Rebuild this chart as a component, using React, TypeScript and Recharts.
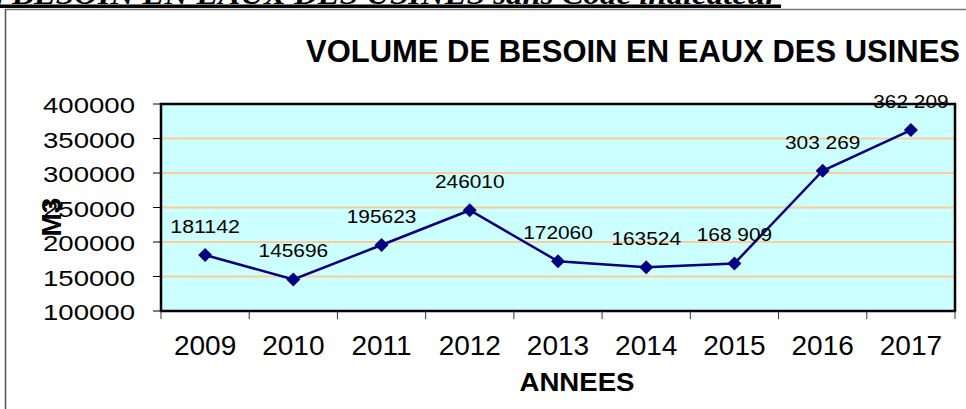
import React from "react";
import {
  LineChart,
  Line,
  XAxis,
  YAxis,
  CartesianGrid,
  ReferenceArea,
  Label,
} from "recharts";

const years = [2009, 2010, 2011, 2012, 2013, 2014, 2015, 2016, 2017];
const volumes = [181142, 145696, 195623, 246010, 172060, 163524, 168909, 303269, 362209];
const valueLabels = ["181142", "145696", "195623", "246010", "172060", "163524", "168 909", "303 269", "362 209"];
const yTicks = [100000, 150000, 200000, 250000, 300000, 350000, 400000];

const data = years.map((year, i) => ({ year, volume: volumes[i], label: valueLabels[i] }));

// category edges, Excel style: ticks between years
const edges = [...years.map((y) => y - 0.5), years[years.length - 1] + 0.5];
const xTicks = [...edges, ...years].sort((a, b) => a - b);
const xDomain = [edges[0], edges[edges.length - 1]];

const FONT = "'Liberation Sans', Arial, sans-serif";

const labelLength = (s: string) => {
  const spaces = s.split(" ").length - 1;
  return (s.length - spaces) * 11.6 + spaces * 5.8;
};

const Diamond = (props: any) => {
  const { cx, cy, index, payload } = props;
  if (cx == null || cy == null) return null;
  const s = 7;
  return (
    <g key={`pt-${index}`}>
      <polygon
        points={`${cx},${cy - s} ${cx + s},${cy} ${cx},${cy + s} ${cx - s},${cy}`}
        fill="#000080"
      />
      <text
        x={cx}
        y={cy - 22}
        textAnchor="middle"
        fontSize={18}
        fontFamily={FONT}
        fill="#000"
        textLength={labelLength(payload.label)}
        lengthAdjust="spacingAndGlyphs"
      >
        {payload.label}
      </text>
    </g>
  );
};

const XTick = (props: any) => {
  const { x, y, payload } = props;
  const v = payload.value;
  if (Number.isInteger(v)) {
    return (
      <text x={x} y={y + 44} textAnchor="middle" fontSize={28} fontFamily={FONT} fill="#000">
        {v}
      </text>
    );
  }
  return <line x1={x} x2={x} y1={y} y2={y + 8} stroke="#333" strokeWidth={1} />;
};

const YTick = (props: any) => {
  const { x, y, payload } = props;
  return (
    <text
      x={x}
      y={y + 9}
      textAnchor="end"
      fontSize={22}
      fontFamily={FONT}
      fill="#000"
      textLength={92}
      lengthAdjust="spacingAndGlyphs"
    >
      {payload.value}
    </text>
  );
};

const YTitle = (props: any) => {
  const vb = props.viewBox || { x: 0, y: 104, width: 161, height: 207 };
  const cx = vb.x + 50;
  const cy = vb.y + vb.height / 2 + 9.5;
  return (
    <text
      x={cx}
      y={cy}
      dy={11}
      transform={`rotate(-90 ${cx} ${cy})`}
      textAnchor="middle"
      fontSize={28}
      fontWeight="bold"
      fontFamily={FONT}
      fill="#000"
    >
      M3
    </text>
  );
};

const XTitle = (props: any) => {
  const vb = props.viewBox || { x: 161, y: 311, width: 794, height: 98 };
  return (
    <text
      x={vb.x + vb.width / 2 + 19}
      y={vb.y + 80}
      textAnchor="middle"
      fontSize={26}
      fontWeight="bold"
      fontFamily={FONT}
      fill="#000"
      textLength={115}
      lengthAdjust="spacingAndGlyphs"
    >
      ANNEES
    </text>
  );
};

export default function App() {
  return (
    <div style={{ position: "absolute", left: 0, top: 0, width: 966, height: 409, overflow: "hidden", background: "#fff" }}>
      <svg width={966} height={409} style={{ position: "absolute", left: 0, top: 0 }}>
        <text
          x={4}
          y={4}
          textAnchor="end"
          fontSize={28}
          fontWeight="bold"
          fontStyle="italic"
          fontFamily="'Liberation Serif', 'Times New Roman', serif"
        >
          VOLUME DE
        </text>
        <text
          x={12}
          y={4}
          fontSize={28}
          fontWeight="bold"
          fontStyle="italic"
          fontFamily="'Liberation Serif', 'Times New Roman', serif"
          textLength={766}
          lengthAdjust="spacingAndGlyphs"
        >
          BESOIN EN EAUX DES USINES sans Code indicateur
        </text>
        <rect x={0} y={4.5} width={781} height={3.5} fill="#000" />
        <line x1={5} x2={966} y1={9.5} y2={9.5} stroke="#777" strokeWidth={1.5} />
        <line x1={5.5} x2={5.5} y1={9} y2={409} stroke="#555" strokeWidth={1.5} />
        <text
          x={306}
          y={62}
          fontSize={32}
          fontWeight="bold"
          fontFamily={FONT}
          textLength={654}
          lengthAdjust="spacingAndGlyphs"
        >
          VOLUME DE BESOIN EN EAUX DES USINES
        </text>
      </svg>
      <div style={{ position: "absolute", left: 0, top: 0 }}>
        <LineChart width={966} height={409} data={data} margin={{ top: 104, right: 11, left: 0, bottom: 0 }}>
          <CartesianGrid
            vertical={false}
            fill="#CCFFFF"
            stroke="#FFCC99"
            strokeWidth={2}
            horizontalValues={yTicks.slice(1, -1)}
          />
          <XAxis
            dataKey="year"
            type="number"
            domain={xDomain}
            ticks={xTicks}
            interval={0}
            tick={<XTick />}
            tickLine={false}
            tickSize={0}
            tickMargin={0}
            axisLine={false}
            height={98}
          >
            <Label content={<XTitle />} />
          </XAxis>
          <YAxis
            type="number"
            domain={[yTicks[0], yTicks[yTicks.length - 1]]}
            ticks={yTicks}
            interval={0}
            width={161}
            tickSize={8}
            tickMargin={18}
            tickLine={{ stroke: "#000" }}
            axisLine={false}
            tick={<YTick />}
          >
            <Label content={<YTitle />} />
          </YAxis>
          <ReferenceArea
            x1={xDomain[0]}
            x2={xDomain[1]}
            y1={yTicks[0]}
            y2={yTicks[yTicks.length - 1]}
            fill="none"
            fillOpacity={0}
            stroke="#000"
            strokeWidth={2.5}
            ifOverflow="visible"
          />
          <Line
            type="linear"
            dataKey="volume"
            stroke="#000080"
            strokeWidth={2.5}
            dot={<Diamond />}
            activeDot={false}
            isAnimationActive={false}
          />
        </LineChart>
      </div>
    </div>
  );
}
